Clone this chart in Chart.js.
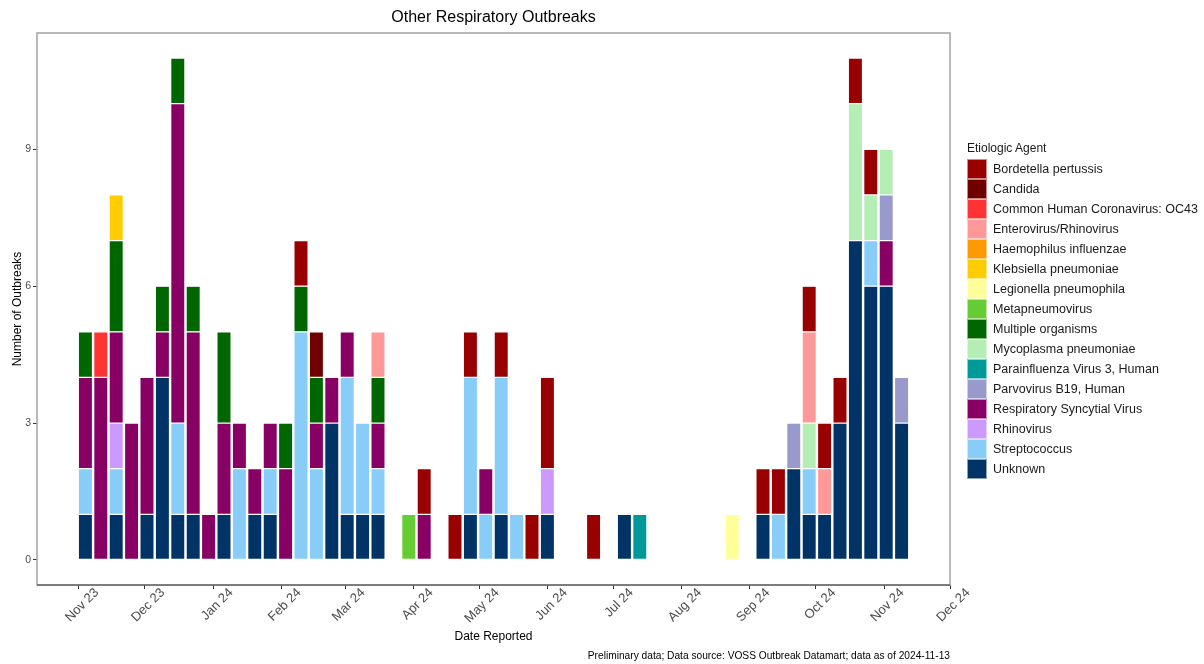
<!DOCTYPE html>
<html>
<head>
<meta charset="utf-8">
<script src="https://cdn.jsdelivr.net/npm/chart.js@4.4.1/dist/chart.umd.min.js"></script>
<style>
html,body{margin:0;padding:0;background:#fff;}
#wrap{position:relative;width:1204px;height:664px;}
#legend{position:absolute;left:967px;top:140px;font-family:"Liberation Sans",Arial,sans-serif;color:#1a1a1a;}
#legend .ttl{font-size:12px;height:19px;line-height:16px;}
#legend .row{display:flex;align-items:center;height:20px;font-size:12.5px;white-space:nowrap;}
#legend .sw{width:20px;height:20px;margin-right:6px;box-sizing:border-box;border:1px solid rgba(255,255,255,0.55);}
</style>
</head>
<body>
<div id="wrap">
<canvas id="c" width="1204" height="664" style="width:1204px;height:664px;"></canvas>
<div id="legend"></div>
</div>
<script>
// ---- Data (week-ending dates, MMWR weeks) ----
const weekEnding = ['2023-11-04','2023-11-11','2023-11-18','2023-11-25','2023-12-02','2023-12-09','2023-12-16','2023-12-23','2023-12-30','2024-01-06',
  '2024-01-13','2024-01-20','2024-01-27','2024-02-03','2024-02-10','2024-02-17','2024-02-24','2024-03-02','2024-03-09','2024-03-16',
  '2024-03-30','2024-04-06','2024-04-20','2024-04-27','2024-05-04','2024-05-11','2024-05-18','2024-05-25','2024-06-01','2024-06-22',
  '2024-07-06','2024-07-13','2024-08-24','2024-09-07','2024-09-14','2024-09-21','2024-09-28','2024-10-05','2024-10-12','2024-10-19',
  '2024-10-26','2024-11-02','2024-11-09'];

const unknown      = [1,0,1,0,1,4,1,1,0,1, 0,1,1,0,0,0,3,1,1,1, 0,0,0,1,0,1,0,0,1,0, 1,0,0,1,0,2,1,1,3,7, 6,6,3];
const streptococcus= [1,0,1,0,0,0,2,0,0,0, 2,0,1,0,5,2,0,3,2,1, 0,0,0,3,1,3,1,0,0,0, 0,0,0,0,1,0,1,0,0,0, 1,0,0];
const rhinovirus   = [0,0,1,0,0,0,0,0,0,0, 0,0,0,0,0,0,0,0,0,0, 0,0,0,0,0,0,0,0,1,0, 0,0,0,0,0,0,0,0,0,0, 0,0,0];
const rsv          = [2,4,2,3,3,1,7,4,1,2, 1,1,1,2,0,1,1,1,0,1, 0,1,0,0,1,0,0,0,0,0, 0,0,0,0,0,0,0,0,0,0, 0,1,0];
const parvovirus   = [0,0,0,0,0,0,0,0,0,0, 0,0,0,0,0,0,0,0,0,0, 0,0,0,0,0,0,0,0,0,0, 0,0,0,0,0,1,0,0,0,0, 0,1,1];
const parainfluenza= [0,0,0,0,0,0,0,0,0,0, 0,0,0,0,0,0,0,0,0,0, 0,0,0,0,0,0,0,0,0,0, 0,1,0,0,0,0,0,0,0,0, 0,0,0];
const mycoplasma   = [0,0,0,0,0,0,0,0,0,0, 0,0,0,0,0,0,0,0,0,0, 0,0,0,0,0,0,0,0,0,0, 0,0,0,0,0,0,1,0,0,3, 1,1,0];
const multiple     = [1,0,2,0,0,1,1,1,0,2, 0,0,0,1,1,1,0,0,0,1, 0,0,0,0,0,0,0,0,0,0, 0,0,0,0,0,0,0,0,0,0, 0,0,0];
const metapneumo   = [0,0,0,0,0,0,0,0,0,0, 0,0,0,0,0,0,0,0,0,0, 1,0,0,0,0,0,0,0,0,0, 0,0,0,0,0,0,0,0,0,0, 0,0,0];
const legionella   = [0,0,0,0,0,0,0,0,0,0, 0,0,0,0,0,0,0,0,0,0, 0,0,0,0,0,0,0,0,0,0, 0,0,1,0,0,0,0,0,0,0, 0,0,0];
const klebsiella   = [0,0,1,0,0,0,0,0,0,0, 0,0,0,0,0,0,0,0,0,0, 0,0,0,0,0,0,0,0,0,0, 0,0,0,0,0,0,0,0,0,0, 0,0,0];
const haemophilus  = [0,0,0,0,0,0,0,0,0,0, 0,0,0,0,0,0,0,0,0,0, 0,0,0,0,0,0,0,0,0,0, 0,0,0,0,0,0,0,0,0,0, 0,0,0];
const enterovirus  = [0,0,0,0,0,0,0,0,0,0, 0,0,0,0,0,0,0,0,0,1, 0,0,0,0,0,0,0,0,0,0, 0,0,0,0,0,0,2,1,0,0, 0,0,0];
const oc43         = [0,1,0,0,0,0,0,0,0,0, 0,0,0,0,0,0,0,0,0,0, 0,0,0,0,0,0,0,0,0,0, 0,0,0,0,0,0,0,0,0,0, 0,0,0];
const candida      = [0,0,0,0,0,0,0,0,0,0, 0,0,0,0,0,1,0,0,0,0, 0,0,0,0,0,0,0,0,0,0, 0,0,0,0,0,0,0,0,0,0, 0,0,0];
const bordetella   = [0,0,0,0,0,0,0,0,0,0, 0,0,0,0,1,0,0,0,0,0, 0,1,1,1,0,1,0,1,2,1, 0,0,0,1,1,0,1,1,1,1, 1,0,0];

const tickDates  = ['2023-11-01','2023-12-01','2024-01-01','2024-02-01','2024-03-01','2024-04-01','2024-05-01','2024-06-01','2024-07-01','2024-08-01','2024-09-01','2024-10-01','2024-11-01','2024-12-01'];
const tickLabels = ['Nov 23','Dec 23','Jan 24','Feb 24','Mar 24','Apr 24','May 24','Jun 24','Jul 24','Aug 24','Sep 24','Oct 24','Nov 24','Dec 24'];
const yTicks = [0,3,6,9];

// series in stacking order (bottom first)
const series = [
  ['Unknown', unknown, '#003366'],
  ['Streptococcus', streptococcus, '#88CDF8'],
  ['Rhinovirus', rhinovirus, '#CC99FF'],
  ['Respiratory Syncytial Virus', rsv, '#880063'],
  ['Parvovirus B19, Human', parvovirus, '#9999CC'],
  ['Parainfluenza Virus 3, Human', parainfluenza, '#009999'],
  ['Mycoplasma pneumoniae', mycoplasma, '#B4EEB4'],
  ['Multiple organisms', multiple, '#006600'],
  ['Metapneumovirus', metapneumo, '#66CC33'],
  ['Legionella pneumophila', legionella, '#FFFF99'],
  ['Klebsiella pneumoniae', klebsiella, '#FFCC00'],
  ['Haemophilus influenzae', haemophilus, '#FF9900'],
  ['Enterovirus/Rhinovirus', enterovirus, '#FF9999'],
  ['Common Human Coronavirus: OC43', oc43, '#FF3333'],
  ['Candida', candida, '#700000'],
  ['Bordetella pertussis', bordetella, '#990000']
];

const TITLE = 'Other Respiratory Outbreaks';
const CAPTION = 'Preliminary data; Data source: VOSS Outbreak Datamart; data as of 2024-11-13';
const FAMILY = '"Liberation Sans", Arial, Helvetica, sans-serif';

const ORIGIN = Date.UTC(2023, 10, 1);
function dayNum(s){ const p = s.split('-').map(Number); return (Date.UTC(p[0], p[1]-1, p[2]) - ORIGIN)/86400000; }

const datasets = series.map(([label, vals, color]) => ({
  label,
  data: weekEnding.map((d, i) => ({x: dayNum(d), y: vals[i] ? vals[i] : null})),
  backgroundColor: color,
  borderColor: 'rgba(255,255,255,0.45)',
  borderWidth: 0.6,
  borderSkipped: false,
  categoryPercentage: 1.0,
  barPercentage: 0.92
}));

const framePlugin = {
  id: 'framePlugin',
  afterDraw(chart){
    const {ctx, chartArea: a} = chart;
    ctx.save();
    ctx.strokeStyle = '#a3a3a3';
    ctx.lineWidth = 1.5;
    ctx.strokeRect(a.left, a.top, a.right - a.left, a.bottom - a.top);
    ctx.strokeStyle = '#404040';
    ctx.lineWidth = 1.2;
    ctx.beginPath(); ctx.moveTo(a.left, a.bottom); ctx.lineTo(a.right, a.bottom); ctx.stroke();
    ctx.fillStyle = '#000';
    ctx.font = '16px ' + FAMILY;
    ctx.textAlign = 'center';
    ctx.textBaseline = 'middle';
    ctx.fillText(TITLE, (a.left + a.right)/2, 18);
    ctx.font = '10.2px ' + FAMILY;
    ctx.textAlign = 'right';
    ctx.fillText(CAPTION, a.right, 656);
    ctx.restore();
  }
};

new Chart(document.getElementById('c'), {
  type: 'bar',
  data: { datasets },
  plugins: [framePlugin],
  options: {
    responsive: false,
    animation: false,
    layout: { padding: { left: 0, right: 254, top: 33, bottom: 20 } },
    plugins: { legend: { display: false }, tooltip: { enabled: false }, title: { display: false } },
    scales: {
      x: {
        type: 'linear', stacked: true, offset: false,
        min: dayNum('2023-10-13'), max: dayNum('2024-12-01'),
        afterBuildTicks: s => { s.ticks = tickDates.map(d => ({value: dayNum(d)})); },
        afterFit: s => { s.height = 59; },
        grid: { offset: false, drawOnChartArea: false, drawTicks: true, tickLength: 4, color: '#333', lineWidth: 1 },
        border: { display: false },
        ticks: {
          autoSkip: false, minRotation: 45, maxRotation: 45, labelOffset: 18, padding: -4,
          color: '#4d4d4d', font: { size: 13, family: FAMILY },
          callback: (v, i) => tickLabels[i]
        },
        title: { display: true, text: 'Date Reported', color: '#000', font: { size: 12, family: FAMILY }, padding: { top: 0, bottom: 0 } }
      },
      y: {
        stacked: true, min: -0.55, max: 11.55,
        afterBuildTicks: s => { s.ticks = yTicks.map(v => ({value: v})); },
        afterFit: s => { s.width = 37; },
        grid: { drawOnChartArea: false, drawTicks: true, tickLength: 4, color: '#333', lineWidth: 1 },
        border: { display: false },
        ticks: { color: '#4d4d4d', font: { size: 10.5, family: FAMILY }, padding: 2 },
        title: { display: true, text: 'Number of Outbreaks', color: '#000', font: { size: 12, family: FAMILY }, padding: { top: 10, bottom: 0 } }
      }
    }
  }
});

// HTML legend (reverse of stacking order)
const lg = document.getElementById('legend');
const t = document.createElement('div'); t.className = 'ttl'; t.textContent = 'Etiologic Agent'; lg.appendChild(t);
series.slice().reverse().forEach(([label, , color]) => {
  const r = document.createElement('div'); r.className = 'row';
  const sw = document.createElement('div'); sw.className = 'sw'; sw.style.background = color;
  const tx = document.createElement('span'); tx.textContent = label;
  r.appendChild(sw); r.appendChild(tx); lg.appendChild(r);
});
</script>
</body>
</html>
